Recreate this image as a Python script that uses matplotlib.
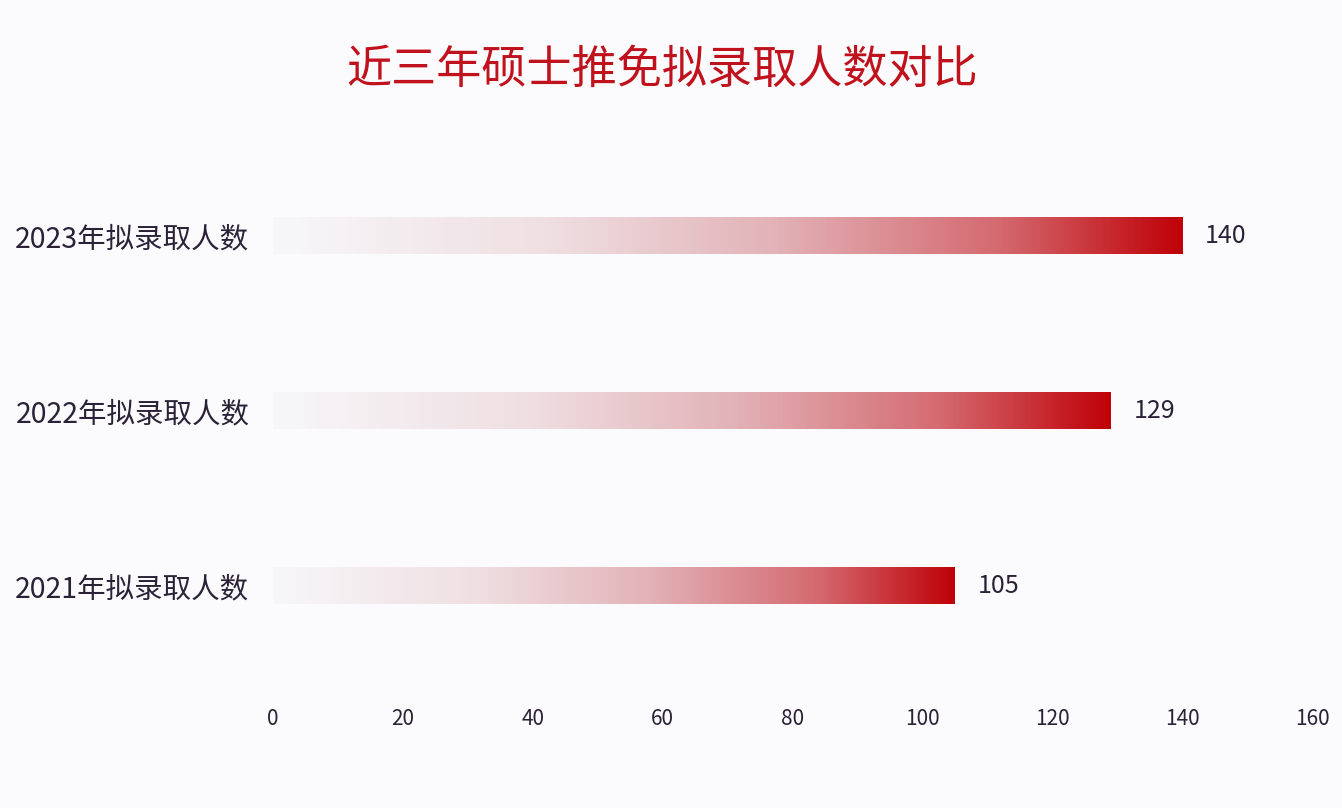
import numpy as np
import matplotlib.pyplot as plt
from matplotlib.colors import LinearSegmentedColormap

plt.rcParams['font.family'] = ['Noto Sans CJK SC', 'DejaVu Sans']

title = "近三年硕士推免拟录取人数对比"
categories = ["2021年拟录取人数", "2022年拟录取人数", "2023年拟录取人数"]
values = [105, 129, 140]
xticks = [0, 20, 40, 60, 80, 100, 120, 140, 160]

bg = "#fbfbfd"
text_col = "#2b2238"
grad = LinearSegmentedColormap.from_list(
    "redfade", [(0.0, "#f7f7fa"), (0.3, "#efdfe2"), (0.55, "#e2b3b8"),
                (0.8, "#d46a70"), (1.0, "#bf0208")])

fig = plt.figure(figsize=(13.42, 8.08), dpi=100, facecolor=bg)
ax = fig.add_axes([273 / 1342, 0.1448, (1312 - 273) / 1342, 0.693])
ax.set_facecolor(bg)

bar_h = 0.21
ramp = np.linspace(0, 1, 256).reshape(1, -1)
for i, v in enumerate(values):
    ax.imshow(ramp, cmap=grad, aspect="auto", interpolation="bilinear",
              extent=(0, v, i - bar_h / 2, i + bar_h / 2), zorder=2)
    ax.text(v + 3.5, i, str(v), va="center", ha="left", fontsize=18,
            color=text_col)

ax.set_xlim(0, 160)
ax.set_ylim(-0.6, 2.6)
ax.set_xticks(xticks)
ax.set_xticklabels([str(t) for t in xticks], fontsize=15, color=text_col,
                   fontstretch="condensed")
ax.set_yticks(range(len(categories)))
ax.set_yticklabels(categories, fontsize=20.5, color=text_col, fontweight="light")
ax.tick_params(axis="both", length=0)
ax.tick_params(axis="x", pad=12)
ax.tick_params(axis="y", pad=17)
for s in ax.spines.values():
    s.set_visible(False)

fig.text(662 / 1342, 1 - 70 / 808, title, ha="center", va="center",
         fontsize=32.5, color="#c0121c", fontweight="medium")

fig.savefig("out.png", dpi=100, facecolor=bg)
